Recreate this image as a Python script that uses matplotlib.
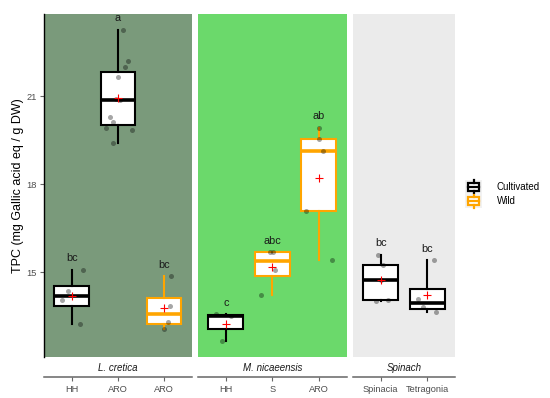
import matplotlib.pyplot as plt
from matplotlib.legend_handler import HandlerBase
from matplotlib.patches import Rectangle
from matplotlib.lines import Line2D
import numpy as np

plt.rcParams['font.family'] = ['Liberation Sans', 'DejaVu Sans']

# ---- date ----
paneluri = ['L. cretica', 'M. nicaeensis', 'Spinach']
etichete = [['HH', 'ARO', 'ARO'], ['HH', 'S', 'ARO'], ['Spinacia', 'Tetragonia']]
tipuri = [['Cultivated', 'Cultivated', 'Wild'],
          ['Cultivated', 'Wild', 'Wild'],
          ['Cultivated', 'Cultivated']]
litere = [['bc', 'a', 'bc'], ['c', 'abc', 'ab'], ['bc', 'bc']]

tpc_cretica = [
    [15.09, 14.35, 14.04, 13.25],
    [23.27, 22.19, 22.01, 21.66, 20.90, 20.86, 20.28, 20.11, 19.90, 19.85, 19.41],
    [14.86, 13.86, 13.30, 13.08],
]
tpc_nicaeensis = [
    [13.56, 13.50, 12.64],
    [15.68, 15.68, 15.09, 14.22],
    [19.92, 19.54, 19.13, 17.09, 15.42],
]
tpc_spinach = [
    [15.60, 15.26, 14.73, 14.05, 14.03],
    [15.40, 14.10, 13.80, 13.65],
]
valori = [tpc_cretica, tpc_nicaeensis, tpc_spinach]

# deplasarea orizontala a punctelor (jitter, citit din poza)
jitter = [
    [[0.24, -0.09, -0.20, 0.18],
     [0.11, 0.21, 0.15, 0.0, -0.05, 0.05, -0.17, -0.11, -0.25, 0.30, -0.10],
     [0.16, 0.12, 0.08, 0.0]],
    [[-0.22, 0.10, -0.08],
     [-0.06, 0.02, 0.06, -0.24],
     [0.0, 0.0, 0.09, -0.27, 0.29]],
    [[-0.05, 0.05, 0.0, 0.16, -0.11],
     [0.14, -0.21, -0.09, 0.19]],
]

culori = {'Cultivated': 'black', 'Wild': '#FFA500'}
fundaluri = ['#7A9A7B', '#6BD96B', '#EBEBEB']

# ---- figura ----
W, H = 550, 398
fig = plt.figure(figsize=(W / 100, H / 100), dpi=100)
margini = [(44, 191.7), (198, 346.7), (352.7, 455.3)]
sus, jos = 14, 357

for k in range(3):
    x0, x1 = margini[k]
    ax = fig.add_axes([x0 / W, (H - jos) / H, (x1 - x0) / W, (jos - sus) / H])
    ax.set_facecolor(fundaluri[k])
    n = len(etichete[k])
    for i in range(n):
        c = culori[tipuri[k][i]]
        v = valori[k][i]
        ax.boxplot(v, positions=[i + 1], widths=0.75, whis=1.5,
                   patch_artist=True, showfliers=False, showcaps=False,
                   boxprops=dict(facecolor='white', edgecolor=c, linewidth=1.5),
                   medianprops=dict(color=c, linewidth=2.6),
                   whiskerprops=dict(color=c, linewidth=1.5),
                   zorder=2)
        xs = np.array(jitter[k][i]) + i + 1
        ax.scatter(xs, v, s=13, color='black', alpha=0.35, linewidths=0, zorder=3)
        ax.plot(i + 1, np.mean(v), marker='+', color='red', markersize=6,
                markeredgewidth=0.8, zorder=4)
        ax.text(i + 1, max(v) + 0.4, litere[k][i], ha='center', va='center',
                fontsize=7.8, color='#1A1A1A')

    ax.set_xlim(0.4, n + 0.6)
    ax.set_ylim(12.11, 23.80)
    ax.set_xticks(range(1, n + 1))
    ax.set_xticklabels(etichete[k])
    for s in ['top', 'right', 'left']:
        ax.spines[s].set_visible(False)
    ax.spines['bottom'].set_position(('outward', 14.4))
    ax.spines['bottom'].set_color('#666666')
    ax.spines['bottom'].set_linewidth(1.1)
    ax.tick_params(axis='x', length=3, color='#666666', labelsize=6.7,
                   labelcolor='#4D4D4D', pad=2.5)
    ax.annotate(paneluri[k], xy=(0.5, 0), xycoords='axes fraction',
                xytext=(0, -8), textcoords='offset points', ha='center',
                va='center', style='italic', fontsize=7, color='#1A1A1A')
    if k == 0:
        ax.spines['left'].set_visible(True)
        ax.spines['left'].set_color('black')
        ax.spines['left'].set_linewidth(1.0)
        ax.set_yticks([15, 18, 21])
        ax.tick_params(axis='y', length=3, color='#666666', labelsize=6.7,
                       labelcolor='#4D4D4D', pad=2)
        ax.set_ylabel('TPC (mg Gallic acid eq / g DW)', fontsize=9, labelpad=2)
    else:
        ax.set_yticks([])


# cheie de legenda in forma de boxplot
class CheieBox(HandlerBase):
    def create_artists(self, legend, orig, xd, yd, w, h, fontsize, trans):
        c = orig.get_color()
        x0, y0 = -xd, -yd
        fundal = Rectangle((x0, y0), w, h, facecolor='#F2F2F2', edgecolor='none',
                           transform=trans)
        cutie = Rectangle((x0 + 0.2 * w, y0 + 0.22 * h), 0.6 * w, 0.56 * h,
                          facecolor='white', edgecolor=c, linewidth=1.6,
                          transform=trans)
        med = Line2D([x0 + 0.2 * w, x0 + 0.8 * w], [y0 + 0.5 * h] * 2,
                     color=c, linewidth=1.6, transform=trans)
        w1 = Line2D([x0 + 0.5 * w] * 2, [y0 + 0.78 * h, y0 + 0.95 * h],
                    color=c, linewidth=1.6, transform=trans)
        w2 = Line2D([x0 + 0.5 * w] * 2, [y0 + 0.05 * h, y0 + 0.22 * h],
                    color=c, linewidth=1.6, transform=trans)
        return [fundal, cutie, med, w1, w2]


manere = [Line2D([], [], color=culori[t]) for t in ['Cultivated', 'Wild']]
fig.legend(manere, ['Cultivated', 'Wild'], loc='center left',
           bbox_to_anchor=(465 / W, (H - 194) / H), frameon=False,
           handler_map={Line2D: CheieBox()}, fontsize=7,
           handlelength=1.75, handleheight=1.9, labelspacing=0.0,
           handletextpad=1.5, borderpad=0, borderaxespad=0)

fig.savefig('out.png', dpi=100)
